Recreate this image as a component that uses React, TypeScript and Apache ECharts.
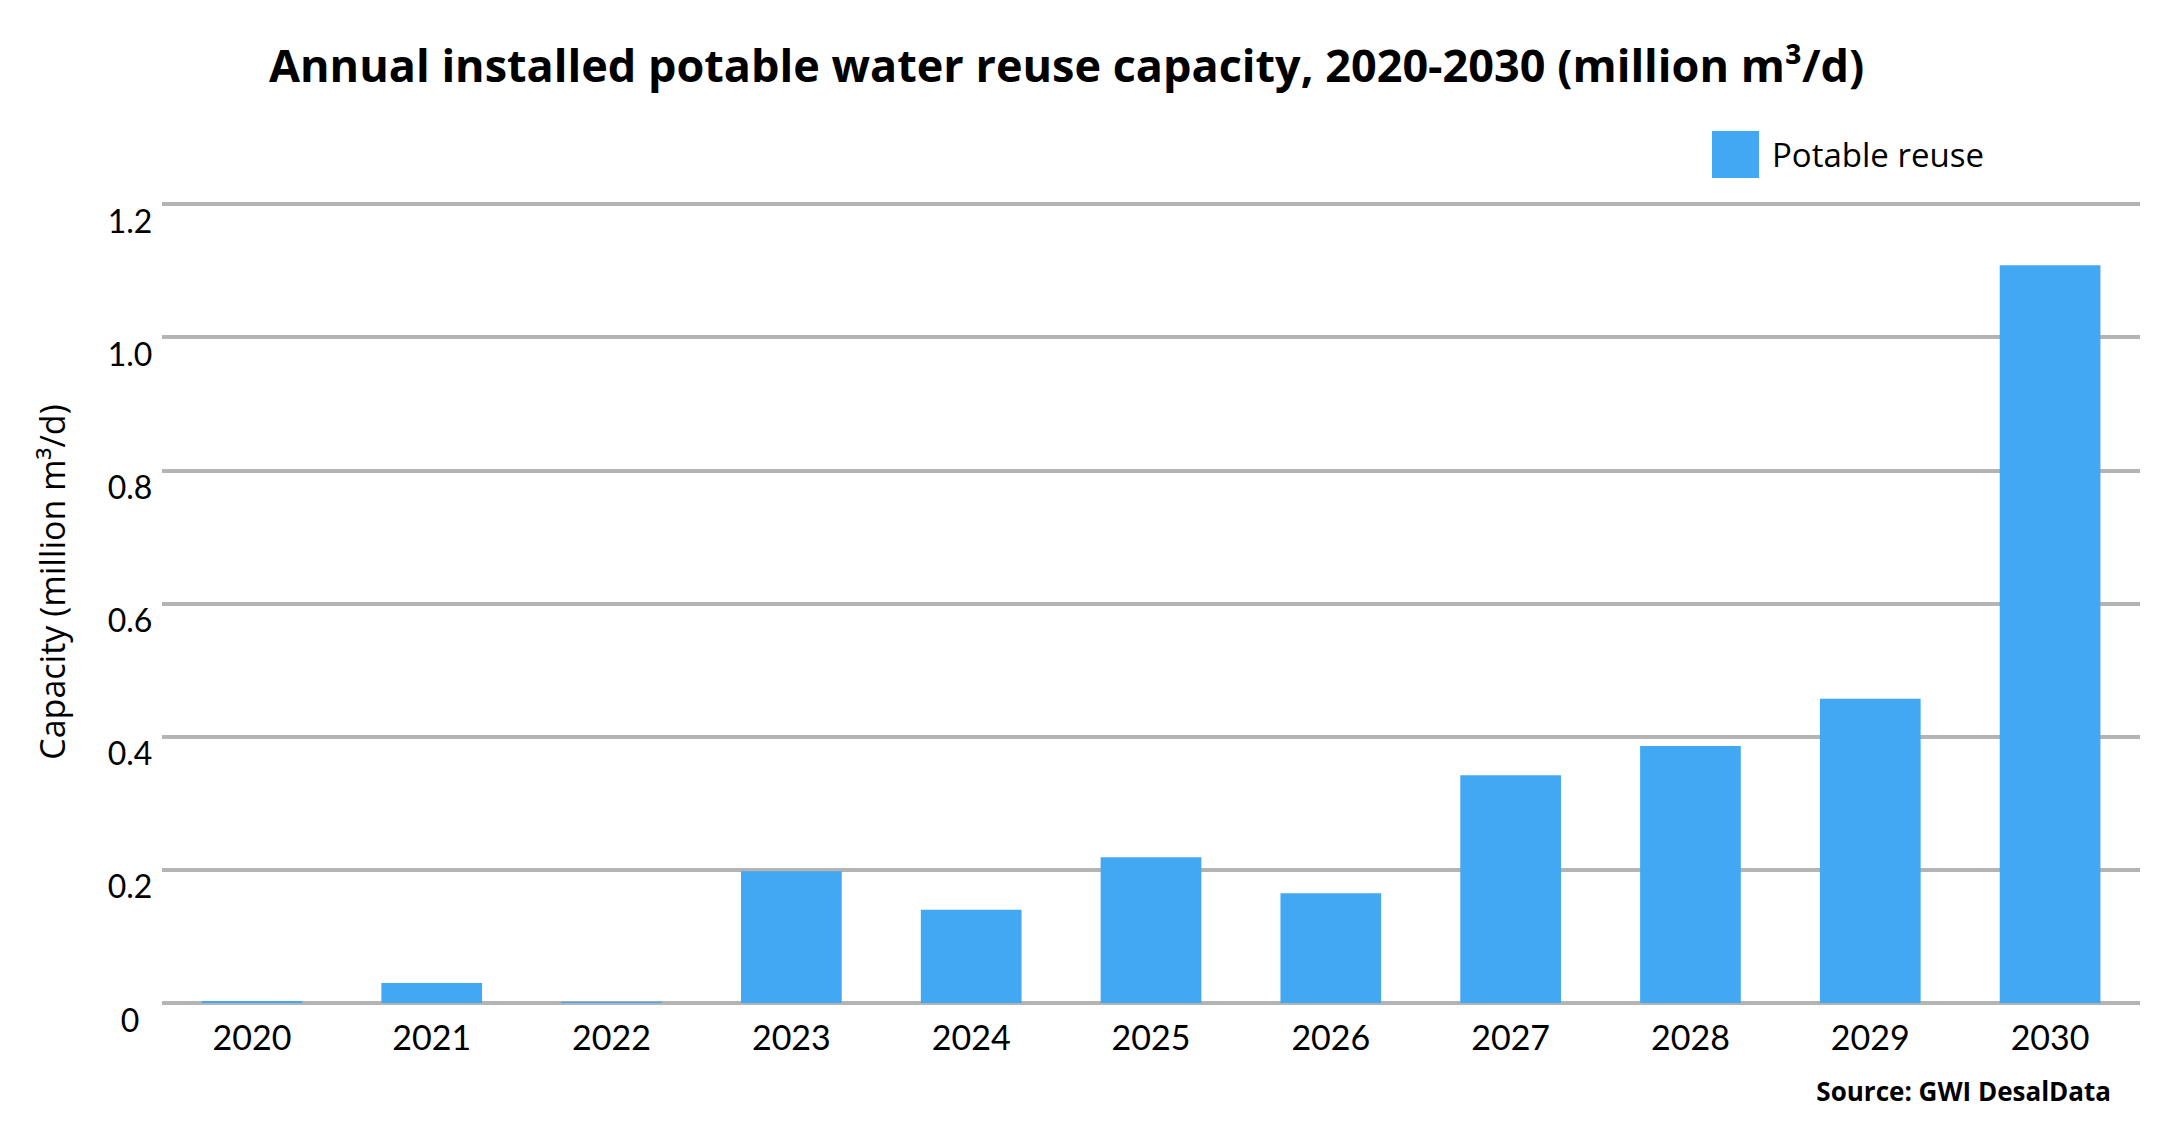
import { useEffect, useRef } from 'react';
import * as echarts from 'echarts';

const years = ['2020', '2021', '2022', '2023', '2024', '2025', '2026', '2027', '2028', '2029', '2030'];
const potableReuse = [0.003, 0.03, 0.002, 0.198, 0.14, 0.219, 0.165, 0.342, 0.386, 0.457, 1.108];
const yTicks = [0, 0.2, 0.4, 0.6, 0.8, 1.0, 1.2];

const FONT = 'Lato, "Noto Sans", sans-serif';
const WIDE_FONT = '"Open Sans", Lato, sans-serif';
const BAR_COLOR = '#42a8f4';

export default function App() {
  const chartRef = useRef<HTMLDivElement | null>(null);

  useEffect(() => {
    const el = chartRef.current;
    if (!el) return;
    const chart = echarts.init(el, undefined, { renderer: 'svg' });

    chart.setOption({
      animation: false,
      backgroundColor: '#ffffff',
      title: {
        text: 'Annual installed potable water reuse capacity, 2020-2030 (million m³/d)',
        left: 269,
        top: 42,
        padding: 0,
        textStyle: { fontFamily: WIDE_FONT, fontWeight: 'bold', fontSize: 45, color: '#000' },
      },
      legend: {
        left: 1712,
        top: 131,
        padding: 0,
        icon: 'rect',
        itemWidth: 47,
        itemHeight: 47,
        selectedMode: false,
        data: ['Potable reuse'],
        textStyle: { fontFamily: WIDE_FONT, fontSize: 33, color: '#000', padding: [0, 0, 0, 8] },
      },
      grid: { left: 162, right: 21, top: 204, bottom: 134, containLabel: false },
      xAxis: {
        type: 'category',
        data: years,
        axisTick: { show: false },
        axisLine: { show: false },
        axisLabel: { fontFamily: FONT, fontSize: 34, color: '#000', margin: 16 },
      },
      yAxis: {
        type: 'value',
        min: 0,
        max: 1.2,
        interval: 0.2,
        axisLine: { show: false },
        axisTick: { show: false },
        splitLine: { lineStyle: { color: '#b4b4b4', width: 4 } },
        axisLabel: {
          fontFamily: FONT,
          fontSize: 32,
          color: '#000',
          align: 'center',
          verticalAlign: 'top',
          margin: 32,
          formatter: (v: number) => {
            const t = yTicks.find((x) => Math.abs(x - v) < 1e-9);
            if (t === undefined) return '';
            return t === 0 ? '0' : t.toFixed(1);
          },
        },
      },
      graphic: [
        {
          type: 'text',
          x: 52,
          y: 582,
          rotation: Math.PI / 2,
          style: {
            text: 'Capacity (million m³/d)',
            fontFamily: WIDE_FONT,
            fontSize: 34,
            fill: '#000',
            align: 'center',
            verticalAlign: 'middle',
          },
        },
        {
          type: 'text',
          right: 50,
          top: 1078,
          style: {
            text: 'Source: GWI DesalData',
            fontFamily: WIDE_FONT,
            fontWeight: 'bold',
            fontSize: 26,
            fill: '#000',
          },
        },
      ],
      series: [
        {
          name: 'Potable reuse',
          type: 'bar',
          data: potableReuse,
          barCategoryGap: '44%',
          itemStyle: { color: BAR_COLOR },
        },
      ],
    });

    return () => {
      chart.dispose();
    };
  }, []);

  return (
    <div
      ref={chartRef}
      style={{ position: 'absolute', left: 0, top: 0, width: 2161, height: 1137 }}
    />
  );
}
